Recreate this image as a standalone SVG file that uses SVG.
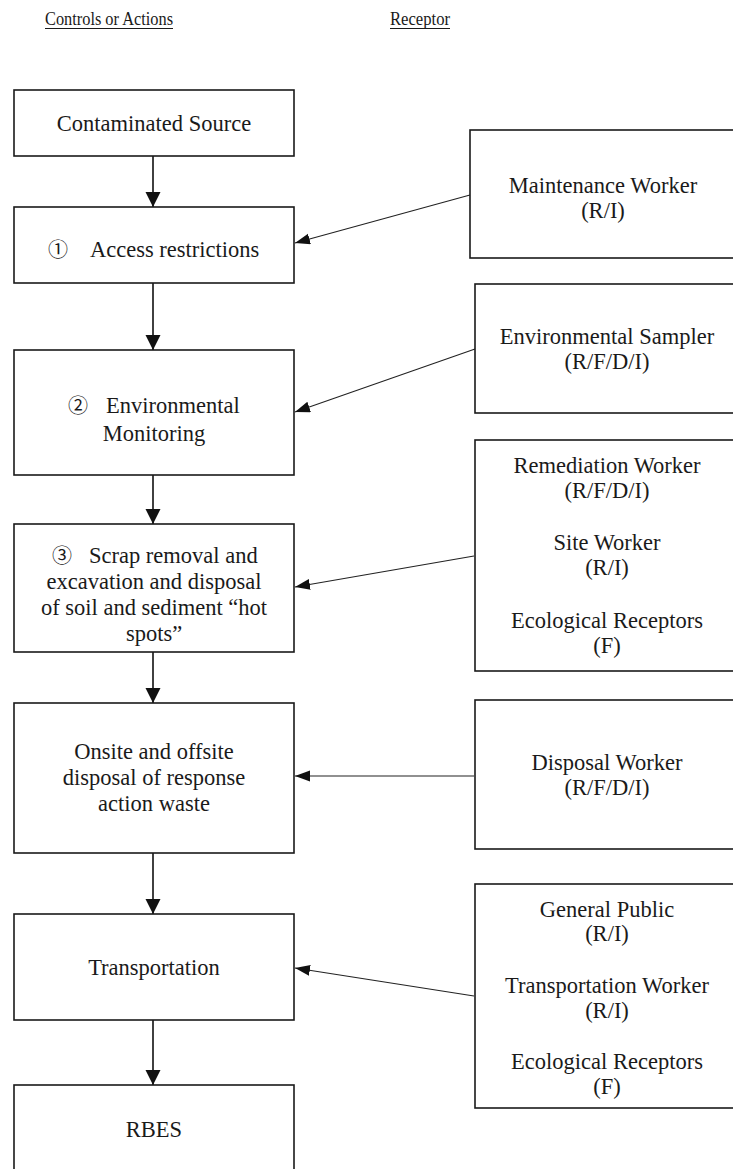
<svg xmlns="http://www.w3.org/2000/svg" width="733" height="1169" viewBox="0 0 733 1169">
<style>
  .box { fill: #ffffff; stroke: #1a1a1a; stroke-width: 1.6; }
  .t { font-family: "Liberation Serif", "Times New Roman", serif; font-size: 22.5px; fill: #1a1a1a; text-anchor: middle; }
  .ts { font-family: "Liberation Serif", "Times New Roman", serif; font-size: 22.5px; fill: #1a1a1a; }
  .num { font-family: "Noto Sans CJK JP", "DejaVu Sans", sans-serif; font-size: 20px; fill: #1a1a1a; }
  .hdr { font-family: "Liberation Serif", "Times New Roman", serif; font-size: 19px; fill: #1a1a1a; }
  .ul { stroke: #1a1a1a; stroke-width: 1.2; }
  .down { stroke: #111111; stroke-width: 1.6; fill: none; marker-end: url(#headBig); }
  .side { stroke: #222222; stroke-width: 1.1; fill: none; marker-end: url(#headSmall); }
</style>
<defs>
  <marker id="headBig" markerUnits="userSpaceOnUse" markerWidth="16" markerHeight="16" refX="15" refY="7.5" orient="auto">
    <path d="M0,0 L15,7.5 L0,15 z" fill="#111111"/>
  </marker>
  <marker id="headSmall" markerUnits="userSpaceOnUse" markerWidth="16" markerHeight="12" refX="15" refY="5.5" orient="auto">
    <path d="M0,0 L15,5.5 L0,11 z" fill="#111111"/>
  </marker>
</defs>
<rect width="733" height="1169" fill="#ffffff"/>

<g id="headers">
  <text class="hdr" x="45" y="25" textLength="128" lengthAdjust="spacingAndGlyphs">Controls or Actions</text>
  <line class="ul" x1="45" y1="28.5" x2="173" y2="28.5"/>
  <text class="hdr" x="390" y="25" textLength="60" lengthAdjust="spacingAndGlyphs">Receptor</text>
  <line class="ul" x1="390" y1="28.5" x2="450" y2="28.5"/>
</g>

<g id="connectors">
  <line class="down" x1="153" y1="156" x2="153" y2="207"/>
  <line class="down" x1="153" y1="283" x2="153" y2="350"/>
  <line class="down" x1="153" y1="475" x2="153" y2="524"/>
  <line class="down" x1="153" y1="652" x2="153" y2="703"/>
  <line class="down" x1="153" y1="853" x2="153" y2="914"/>
  <line class="down" x1="153" y1="1020" x2="153" y2="1085"/>
  <line class="side" x1="470" y1="195" x2="295" y2="243"/>
  <line class="side" x1="475" y1="349" x2="295" y2="412"/>
  <line class="side" x1="474" y1="556" x2="295" y2="587"/>
  <line class="side" x1="474" y1="776" x2="295" y2="776"/>
  <line class="side" x1="474" y1="996" x2="295" y2="968"/>
</g>

<g id="n-source">
  <rect class="box" x="14" y="90" width="280" height="66"/>
  <text class="t" x="154" y="131">Contaminated Source</text>
</g>
<g id="n-access">
  <rect class="box" x="14" y="207" width="280" height="76"/>
  <text class="num" x="48" y="257">①</text>
  <text class="ts" x="90" y="257">Access restrictions</text>
</g>
<g id="n-monitoring">
  <rect class="box" x="14" y="350" width="280" height="125"/>
  <text class="num" x="68" y="413">②</text>
  <text class="ts" x="106" y="413">Environmental</text>
  <text class="t" x="154" y="441">Monitoring</text>
</g>
<g id="n-scrap">
  <rect class="box" x="14" y="524" width="280" height="128"/>
  <text class="num" x="52" y="563">③</text>
  <text class="ts" x="89" y="563">Scrap removal and</text>
  <text class="t" x="154" y="589">excavation and disposal</text>
  <text class="t" x="154" y="615">of soil and sediment “hot</text>
  <text class="t" x="154" y="641">spots”</text>
</g>
<g id="n-disposal">
  <rect class="box" x="14" y="703" width="280" height="150"/>
  <text class="t" x="154" y="759">Onsite and offsite</text>
  <text class="t" x="154" y="785">disposal of response</text>
  <text class="t" x="154" y="811">action waste</text>
</g>
<g id="n-transport">
  <rect class="box" x="14" y="914" width="280" height="106"/>
  <text class="t" x="154" y="975">Transportation</text>
</g>
<g id="n-rbes">
  <rect class="box" x="14" y="1085" width="280" height="100"/>
  <text class="t" x="154" y="1137">RBES</text>
</g>

<g id="r-maintenance">
  <rect class="box" x="470" y="130" width="280" height="128"/>
  <text class="t" x="603" y="193">Maintenance Worker</text>
  <text class="t" x="603" y="218">(R/I)</text>
</g>
<g id="r-sampler">
  <rect class="box" x="475" y="284" width="280" height="129"/>
  <text class="t" x="607" y="344">Environmental Sampler</text>
  <text class="t" x="607" y="369">(R/F/D/I)</text>
</g>
<g id="r-remediation">
  <rect class="box" x="475" y="440" width="280" height="231"/>
  <text class="t" x="607" y="473">Remediation Worker</text>
  <text class="t" x="607" y="498">(R/F/D/I)</text>
  <text class="t" x="607" y="550">Site Worker</text>
  <text class="t" x="607" y="575">(R/I)</text>
  <text class="t" x="607" y="628">Ecological Receptors</text>
  <text class="t" x="607" y="653">(F)</text>
</g>
<g id="r-disposal">
  <rect class="box" x="475" y="700" width="280" height="149"/>
  <text class="t" x="607" y="770">Disposal Worker</text>
  <text class="t" x="607" y="795">(R/F/D/I)</text>
</g>
<g id="r-public">
  <rect class="box" x="475" y="884" width="280" height="224"/>
  <text class="t" x="607" y="917">General Public</text>
  <text class="t" x="607" y="941">(R/I)</text>
  <text class="t" x="607" y="993">Transportation Worker</text>
  <text class="t" x="607" y="1018">(R/I)</text>
  <text class="t" x="607" y="1069">Ecological Receptors</text>
  <text class="t" x="607" y="1094">(F)</text>
</g>
</svg>
